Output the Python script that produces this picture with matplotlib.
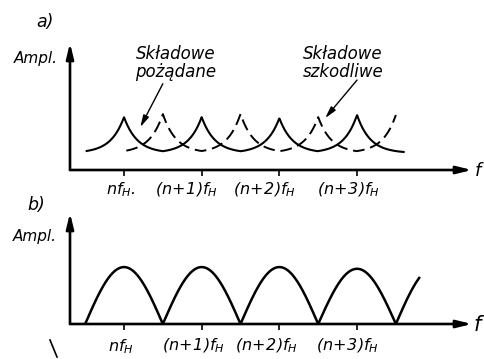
import numpy as np
import matplotlib.pyplot as plt
from matplotlib.lines import Line2D

plt.rcParams['font.family'] = 'DejaVu Sans'
plt.rcParams['font.style'] = 'italic'
plt.rcParams['mathtext.fontset'] = 'custom'
plt.rcParams['mathtext.it'] = 'DejaVu Sans:italic'
plt.rcParams['mathtext.rm'] = 'DejaVu Sans:italic'

# harmonic positions, in units of f_H counted from n*f_H
harmonics = [0, 1, 2, 3]
labels_a = [r'$nf_H.$', r'$(n\!+\!1)f_H$', r'$(n\!+\!2)f_H$', r'$(n\!+\!3)f_H$']
labels_b = [r'$nf_H$', r'$(n\!+\!1)f_H$', r'$(n\!+\!2)f_H$', r'$(n\!+\!3)f_H$']

# a) wanted (solid) and unwanted (dashed) components
wanted_pos = [0, 1, 2, 3]
wanted_amp = [1.00, 1.00, 0.98, 1.04]
unwanted_pos = [0.5, 1.5, 2.5, 3.5]
unwanted_amp = [1.06, 1.06, 1.00, 1.04]
floor_a = 0.32

# b) spectrum humps
hump_pos = [0, 1, 2, 3, 4]
hump_amp = [1.00, 1.00, 1.00, 0.97, 1.00]


def cusps(x, pos, amp, floor, w=0.169):
    pos = np.asarray(pos, float)
    amp = np.asarray(amp, float)
    d = np.abs(x[:, None] - pos[None, :])
    return floor + ((amp - floor)[None, :] * np.exp(-d / w)).max(axis=1)


def arches(x, pos, amp):
    pos = np.asarray(pos, float)
    amp = np.asarray(amp, float)
    d = x[:, None] - pos[None, :]
    k = np.abs(d).argmin(axis=1)
    return amp[k] * np.abs(np.cos(np.pi * d[np.arange(len(x)), k]))


W, H = 485, 359
fig = plt.figure(figsize=(W / 100, H / 100), dpi=100)
XLIM = (-0.695, 4.48)


def panel(top, bottom, ytop):
    ax = fig.add_axes([70 / W, 1 - bottom / H, (472 - 70) / W, (bottom - top) / H])
    ax.set_xlim(*XLIM)
    ax.set_ylim(0, ytop)
    for s in ax.spines.values():
        s.set_visible(False)
    ax.patch.set_alpha(0)
    arrow = dict(arrowstyle='-|>,head_length=0.9,head_width=0.22', lw=1.9,
                 color='black', shrinkA=0, shrinkB=0)
    ax.annotate('', xy=(1, 0), xytext=(0, 0), xycoords='axes fraction', arrowprops=arrow)
    ax.annotate('', xy=(0, 1), xytext=(0, 0), xycoords='axes fraction', arrowprops=arrow)
    ax.set_xticks(harmonics)
    ax.set_yticks([])
    ax.tick_params(axis='x', direction='out', length=4, width=1.2, labelbottom=False)
    return ax


ink = 'black'

# ---- a)
ax_a = panel(43, 170, 2.4)
xs = np.linspace(-0.48, 3.6, 900)
ax_a.plot(xs, cusps(xs, wanted_pos, wanted_amp, floor_a), color=ink, lw=1.5)
xd = np.linspace(0.03, 3.5, 900)
ax_a.plot(xd, cusps(xd, unwanted_pos, unwanted_amp, floor_a), color=ink, lw=1.4,
          dashes=(6, 3))

for h, lab, dx in zip(harmonics, labels_a, [-2, -11, -11, -6]):
    ax_a.annotate(lab, (h, 0), xytext=(dx, -14), textcoords='offset points',
                  ha='center', va='center', fontsize=11.5)

thin = dict(arrowstyle='-|>,head_length=0.7,head_width=0.18', lw=1.0, color=ink,
            shrinkA=0, shrinkB=0)
ax_a.annotate('', xy=(0.21, 0.81), xytext=(0.50, 1.63), arrowprops=thin)
ax_a.annotate('', xy=(2.59, 0.98), xytext=(3.0, 1.70), arrowprops=thin)

fig.text(176 / W, 1 - 63 / H, 'Składowe\npożądane', ha='center', va='center',
         fontsize=12, linespacing=0.95)
fig.text(343 / W, 1 - 63 / H, 'Składowe\nszkodliwe', ha='center', va='center',
         fontsize=12, linespacing=0.95)
fig.text(45 / W, 1 - 22 / H, 'a)', ha='center', va='center', fontsize=12.5)
fig.text(36 / W, 1 - 58 / H, 'Ampl.', ha='center', va='center', fontsize=11)
fig.text(475 / W, 1 - 171 / H, 'f', ha='left', va='center', fontsize=13)

# ---- b)
ax_b = panel(213, 324, 1.95)
xb = np.linspace(-0.5, 3.8, 900)
ax_b.plot(xb, arches(xb, hump_pos, hump_amp), color=ink, lw=1.8)

for h, lab, dx in zip(harmonics, labels_b, [-2, -6, -9, -7]):
    ax_b.annotate(lab, (h, 0), xytext=(dx, -16), textcoords='offset points',
                  ha='center', va='center', fontsize=11.5)

fig.text(36 / W, 1 - 205 / H, 'b)', ha='center', va='center', fontsize=12.5)
fig.text(35 / W, 1 - 236 / H, 'Ampl.', ha='center', va='center', fontsize=11)
fig.text(474 / W, 1 - 325 / H, 'f', ha='left', va='center', fontsize=15)

# stray pen stroke at the bottom left
fig.add_artist(Line2D([50 / W, 57 / W], [1 - 340 / H, 1 - 357 / H], color=ink, lw=1.2))

fig.savefig('out.png', dpi=100)
